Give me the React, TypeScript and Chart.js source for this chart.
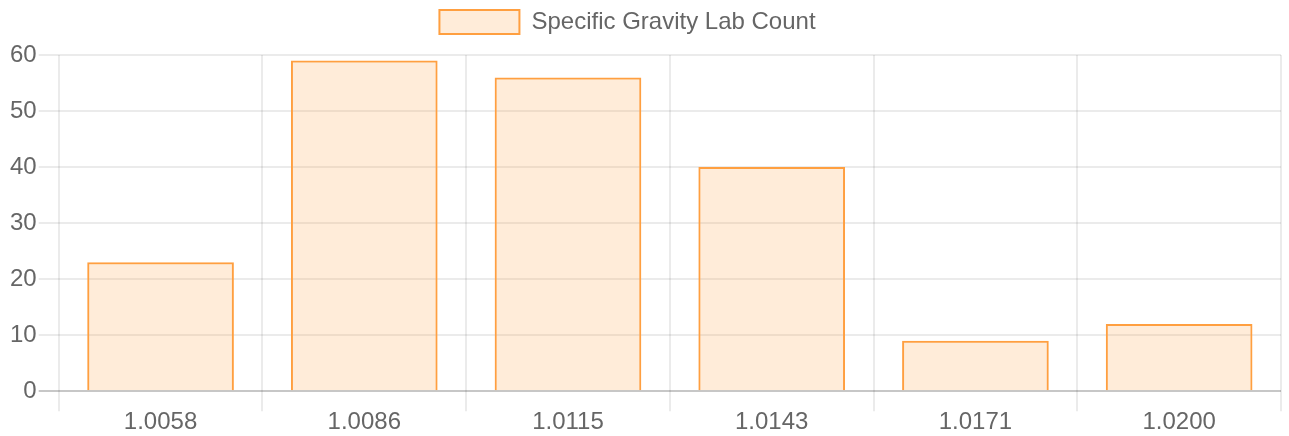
import React, { useEffect, useRef } from "react";
import { Chart, registerables } from "chart.js";

Chart.register(...registerables);

const categories = ["1.0058", "1.0086", "1.0115", "1.0143", "1.0171", "1.0200"];
const counts = [23, 59, 56, 40, 9, 12];
const seriesLabel = "Specific Gravity Lab Count";

const legendShift = {
  id: "legendShift",
  afterLayout(chart: any) {
    if (chart.legend) {
      chart.legend.left -= 34;
      chart.legend.top -= 11;
      chart.legend.bottom -= 11;
    }
  },
};

export default function App() {
  const ref = useRef<HTMLCanvasElement | null>(null);

  useEffect(() => {
    document.body.style.margin = "0";
    const ctx = ref.current;
    if (!ctx) return;
    const font = { family: "'Liberation Sans', Arial, sans-serif", size: 24 };
    const chart = new Chart(ctx, {
      type: "bar",
      data: {
        labels: categories,
        datasets: [
          {
            label: seriesLabel,
            data: counts,
            backgroundColor: "rgba(255,159,64,0.2)",
            borderColor: "rgb(255,159,64)",
            borderWidth: 2,
          },
        ],
      },
      plugins: [legendShift],
      options: {
        responsive: false,
        animation: false,
        maintainAspectRatio: false,
        layout: { padding: { left: 8, right: 8, top: 11, bottom: 2 } },
        plugins: {
          legend: {
            position: "top",
            labels: {
              color: "#666",
              font,
              boxWidth: 80,
              boxHeight: 24,
              padding: 10,
            },
          },
          tooltip: { enabled: false },
        },
        scales: {
          x: {
            grid: {
              offset: true,
              color: "rgba(0,0,0,0.08)",
              lineWidth: 2,
              tickLength: 20,
            },
            border: { display: false },
            ticks: { color: "#666", font, padding: -3, maxRotation: 0 },
          },
          y: {
            min: 0,
            max: 60,
            grid: {
              color: (c: any) => (c.tick && c.tick.value === 0 ? "rgba(0,0,0,0.22)" : "rgba(0,0,0,0.08)"),
              lineWidth: 2,
              tickLength: 20,
            },
            border: { display: false },
            ticks: { color: "#666", font, stepSize: 10, padding: 2 },
          },
        },
      },
    });
    return () => chart.destroy();
  }, []);

  return (
    <div style={{ width: 1289, height: 436 }}>
      <canvas ref={ref} width={1289} height={436} style={{ display: "block" }} />
    </div>
  );
}
